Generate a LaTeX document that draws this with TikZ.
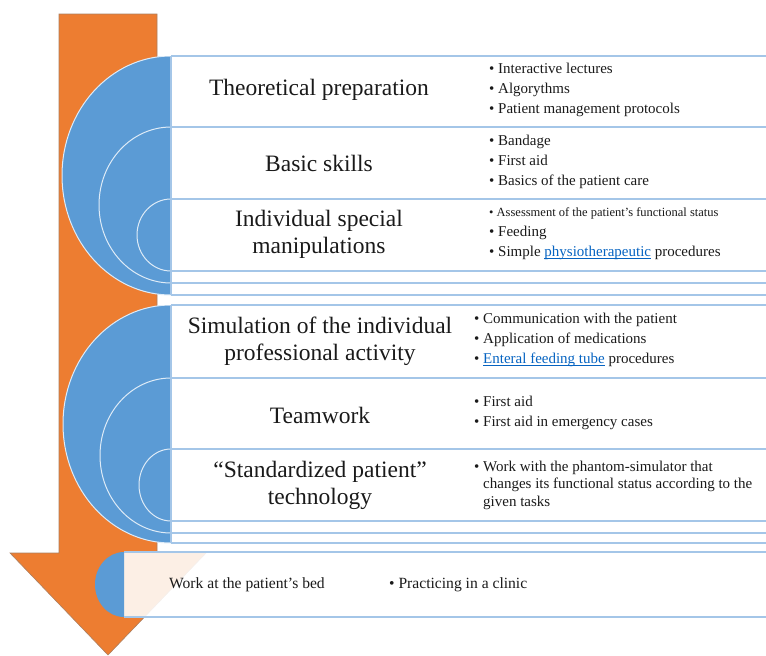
\documentclass[tikz,border=0pt]{standalone}
\usepackage{fontspec}
\setmainfont{Liberation Serif}
\definecolor{arrowor}{HTML}{ED7D31}
\definecolor{bluefill}{HTML}{5B9BD5}
\definecolor{rowblue}{HTML}{A4C6E8}
\definecolor{arcwhite}{HTML}{DEEBF7}
\definecolor{linkblue}{HTML}{0563C1}
\definecolor{txt}{HTML}{1A1A1A}
\newcommand\ulink[1]{\leavevmode\setbox0\hbox{#1}\rlap{\raisebox{-2pt}{\textcolor{linkblue}{\rule{\wd0}{0.6pt}}}}\textcolor{linkblue}{\box0}}
\begin{document}
\begin{tikzpicture}[x=1pt,y=-1pt,
  rowline/.style={draw=rowblue,line width=1.6pt},
  arcline/.style={draw=arcwhite,line width=1pt},
  titletext/.style={font=\fontsize{23.5}{27}\selectfont,align=center,inner sep=0pt,text=txt},
  blist/.style={font=\fontsize{15}{20}\selectfont,align=left,inner sep=0pt,anchor=west,text=txt},
  bottomtext/.style={font=\fontsize{15.6}{19}\selectfont,inner sep=0pt,text=txt}]
\useasboundingbox (0,0) rectangle (766,656);
% big arrow
\fill[arrowor,draw=gray!60!arrowor,line width=0.6pt] (59,14) -- (157,14) -- (157,553) -- (206,553) -- (108,655) -- (10,553) -- (59,553) -- cycle;
% group 1
\begin{scope}
  \clip (0,56) rectangle (171,295);
  \fill[bluefill] (171,175.5) ellipse [x radius=109pt, y radius=119.5pt];
  \draw[arcline] (171,175.5) ellipse [x radius=109pt, y radius=119.5pt];
  \draw[arcline] (171,205) ellipse [x radius=72pt, y radius=78pt];
  \draw[arcline] (171,235) ellipse [x radius=34pt, y radius=36pt];
\end{scope}
\foreach \yy in {56,127,199,271,283,295} \draw[rowline] (171,\yy) -- (766,\yy);
\draw[rowline] (171,56) -- (171,295);
% group 2
\begin{scope}
  \clip (0,305) rectangle (171,543);
  \fill[bluefill] (171,424) ellipse [x radius=108pt, y radius=119pt];
  \draw[arcline] (171,424) ellipse [x radius=108pt, y radius=119pt];
  \draw[arcline] (171,455.5) ellipse [x radius=71pt, y radius=77.5pt];
  \draw[arcline] (171,485) ellipse [x radius=32pt, y radius=36pt];
\end{scope}
\foreach \yy in {305,378,449,521,533,543} \draw[rowline] (171,\yy) -- (766,\yy);
\draw[rowline] (171,305) -- (171,543);
% bottom box
\fill[white,fill opacity=0.88] (124,552) rectangle (766,617);
\begin{scope}
  \clip (0,552) rectangle (124,617);
  \fill[bluefill] (124,584.5) ellipse [x radius=29pt, y radius=32.5pt];
\end{scope}
\draw[rowline] (124,552) -- (766,552);
\draw[rowline] (124,617) -- (766,617);
% titles
\node[titletext] (t1) at (319,90) {Theoretical preparation};
\node[titletext] (t2) at (319,163) {Basic skills};
\node[titletext] (t3) at (319,234) {Individual special\\manipulations};
\node[titletext] (t4) at (320,341) {Simulation of the individual\\professional activity};
\node[titletext] (t5) at (320,415) {Teamwork};
\node[titletext] (t6) at (320,485) {“Standardized patient”\\technology};
\node[bottomtext] (t7) at (247,585) {Work at the patient’s bed};
% bullets
\node[blist] (b1) at (489,90) {• Interactive lectures\\• Algorythms\\• Patient management protocols};
\node[blist] (b2) at (489,162) {• Bandage\\• First aid\\• Basics of the patient care};
\node[blist] (b3) at (489,234) {{\fontsize{12.5}{20}\selectfont • Assessment of the patient’s functional status}\\• Feeding\\• Simple \ulink{physiotherapeutic} procedures};
\node[blist] (b4) at (474,340) {• Communication with the patient\\• Application of medications\\• \ulink{Enteral feeding tube} procedures};
\node[blist] (b5) at (474,413) {• First aid\\• First aid in emergency cases};
\node[blist,font=\fontsize{15}{17.5}\selectfont] (b6) at (474,485) {• Work with the phantom-simulator that\\\phantom{•}\ changes its functional status according to the\\\phantom{•}\ given tasks};
\node[bottomtext,anchor=west] (b7) at (389,585) {• Practicing in a clinic};
\end{tikzpicture}
\end{document}
